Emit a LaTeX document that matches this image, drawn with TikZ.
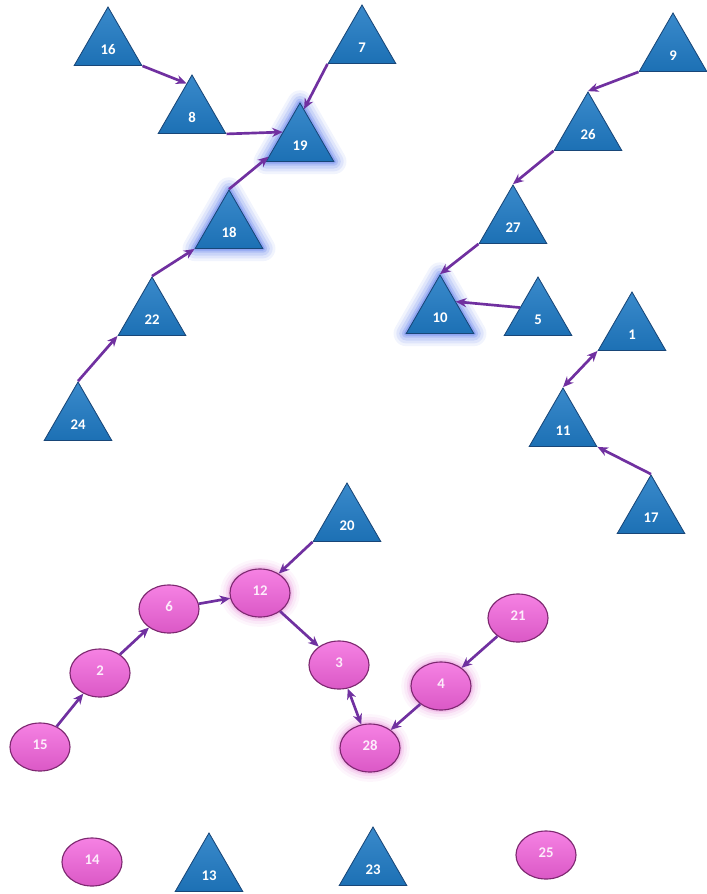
\documentclass[tikz,border=0pt]{standalone}
\usepackage{fontspec}
\setmainfont{Carlito}
\usetikzlibrary{shapes.geometric,arrows.meta}
\definecolor{triblue}{RGB}{31,122,196}
\definecolor{triedge}{RGB}{24,70,120}
\definecolor{elpink}{RGB}{243,98,220}
\definecolor{eledge}{RGB}{125,40,112}
\definecolor{linkpurple}{RGB}{112,48,160}

\begin{document}
\begin{tikzpicture}[x=0.025cm,y=-0.025cm,>={Stealth[length=7.5pt,width=6.5pt]},
  tri/.style={regular polygon,regular polygon sides=3,minimum size=1.95cm,inner sep=0pt,
    draw=triedge,line width=0.6pt,top color=triblue!88!white,bottom color=triblue!92!black,
    text=white,font=\bfseries\fontsize{10.5}{12}\selectfont,text height=12.5pt,text depth=0pt},
  ell/.style={ellipse,minimum width=1.5cm,minimum height=1.2cm,inner sep=0pt,
    draw=eledge,line width=0.8pt,top color=elpink!80!white,bottom color=elpink!90!black,
    text=white!88!elpink,font=\bfseries\fontsize{10.5}{12}\selectfont,text height=6pt,text depth=3pt},
  glowtri/.style={preaction={draw=blue!50!triblue,line width=18pt,opacity=0.06,line join=round},
    preaction={draw=blue!50!triblue,line width=14pt,opacity=0.08,line join=round},
    preaction={draw=blue!50!triblue,line width=10pt,opacity=0.1,line join=round},
    preaction={draw=blue!50!triblue,line width=6pt,opacity=0.14,line join=round},
    preaction={draw=blue!50!triblue,line width=3pt,opacity=0.2,line join=round}},
  glowell/.style={preaction={draw=elpink!80!eledge,line width=14pt,opacity=0.05},
    preaction={draw=elpink!80!eledge,line width=10pt,opacity=0.08},
    preaction={draw=elpink!80!eledge,line width=6pt,opacity=0.12},
    preaction={draw=elpink!80!eledge,line width=3pt,opacity=0.18}},
  link/.style={draw=linkpurple,line width=1.9pt}]
\useasboundingbox (0,0) rectangle (706,894);

\node[tri] (n16) at (108,46) {16};
\node[tri] (n8) at (192,114) {8};
\node[tri,glowtri] (n19) at (300,142) {19};
\node[tri] (n7) at (362,44) {7};
\node[tri,glowtri] (n18) at (229,229) {18};
\node[tri] (n22) at (152,316) {22};
\node[tri] (n24) at (78,421) {24};
\node[tri] (n9) at (673,52) {9};
\node[tri] (n26) at (588,131) {26};
\node[tri] (n27) at (513,224) {27};
\node[tri,glowtri] (n10) at (440,314) {10};
\node[tri] (n5) at (538,316) {5};
\node[tri] (n1) at (632,331) {1};
\node[tri] (n11) at (563,427) {11};
\node[tri] (n17) at (651,514) {17};
\node[tri] (n20) at (347,522) {20};
\node[tri] (n13) at (209,872) {13};
\node[tri] (n23) at (373,866) {23};

\node[ell] (n15) at (40,747) {15};
\node[ell] (n2) at (100,673) {2};
\node[ell] (n6) at (169,609) {6};
\node[ell,glowell] (n12) at (260,593) {12};
\node[ell] (n3) at (339,665) {3};
\node[ell,glowell] (n4) at (441,686) {4};
\node[ell,glowell] (n28) at (370,748) {28};
\node[ell] (n21) at (518,618) {21};
\node[ell] (n14) at (92,862) {14};
\node[ell] (n25) at (546,855) {25};

\draw[link,->] (n16.corner 3) -- (n8.100);
\draw[link,->] (n8.corner 3) -- (n19.150);
\draw[link,->] (n7.corner 2) -- (n19.83);
\draw[link,->] (n18.corner 1) -- (n19.205);
\draw[link,->] (n22.corner 1) -- (n18.corner 2);
\draw[link,->] (n24.corner 1) -- (n22.corner 2);
\draw[link,->] (n9.corner 2) -- (n26.corner 1);
\draw[link,->] (n26.corner 2) -- (n27.corner 1);
\draw[link,->] (n27.corner 2) -- (n10.corner 1);
\draw[link,->] (n5.155) -- (n10.38);
\draw[link,<->] (n1.corner 2) -- (n11.corner 1);
\draw[link,->] (n17.corner 1) -- (n11.corner 3);
\draw[link,->] (n20.corner 2) -- (n12.46);
\draw[link,->] (n6) -- (n12);
\draw[link,->] (n12) -- (n3);
\draw[link,->] (n2) -- (n6);
\draw[link,->] (n15) -- (n2);
\draw[link,<->] (n3) -- (n28);
\draw[link,->] (n21) -- (n4);
\draw[link,->] (n4) -- (n28);
\end{tikzpicture}
\end{document}
